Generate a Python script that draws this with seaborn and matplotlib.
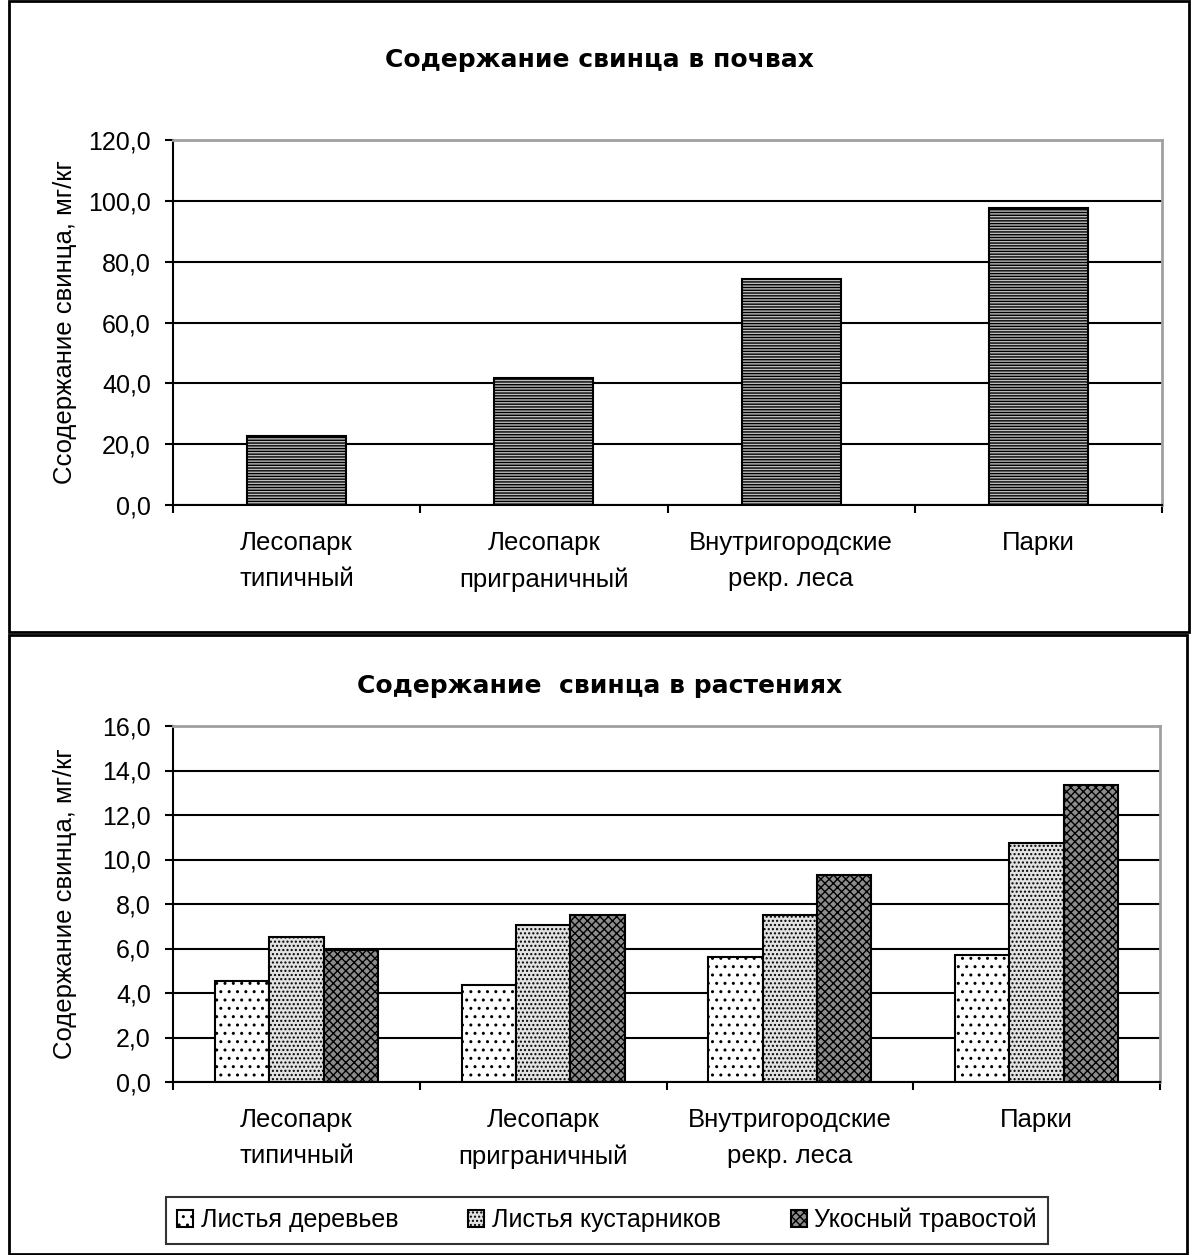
import numpy as np
import pandas as pd
import matplotlib
matplotlib.use("Agg")
import matplotlib.pyplot as plt
from matplotlib.patches import Rectangle
from matplotlib.ticker import FixedLocator, FuncFormatter
import seaborn as sns

# ---- data ----
categories = ["Лесопарк\nтипичный", "Лесопарк\nприграничный",
              "Внутригородские\nрекр. леса", "Парки"]
soil_lead = [22.7, 41.8, 74.4, 97.5]

series_names = ["Листья деревьев", "Листья кустарников", "Укосный травостой"]
tree_leaves = [4.55, 4.35, 5.6, 5.7]
shrub_leaves = [6.5, 7.05, 7.5, 10.75]
hay_grass = [5.95, 7.5, 9.3, 13.35]

soil_ticks = [0, 20, 40, 60, 80, 100, 120]
plant_ticks = [0, 2, 4, 6, 8, 10, 12, 14, 16]

sns.set_theme(style="white")
plt.rcParams["font.family"] = ["Liberation Sans", "DejaVu Sans"]
plt.rcParams["hatch.linewidth"] = 1.0
for key in ("text.color", "axes.labelcolor", "xtick.color", "ytick.color"):
    plt.rcParams[key] = "black"

W, H = 1192, 1255
fig = plt.figure(figsize=(W / 100, H / 100), dpi=100)
fig.patch.set_facecolor("white")


def fx(px):
    return px / W


def fy(py):
    return 1 - py / H


def comma_fmt(v, pos):
    return f"{v:.1f}".replace(".", ",")


def style_axes(ax, ticks):
    ax.set_ylim(ticks[0], ticks[-1])
    ax.set_xlim(-0.5, len(categories) - 0.5)
    ax.yaxis.set_major_locator(FixedLocator(ticks))
    ax.yaxis.set_major_formatter(FuncFormatter(comma_fmt))
    ax.yaxis.grid(True, color="black", linewidth=1.5)
    ax.xaxis.grid(False)
    ax.set_axisbelow(True)
    for side in ("left", "bottom"):
        ax.spines[side].set_color("black")
        ax.spines[side].set_linewidth(1.5)
        ax.spines[side].set_visible(True)
    for side in ("top", "right"):
        ax.spines[side].set_color("#a0a0a0")
        ax.spines[side].set_linewidth(2)
        ax.spines[side].set_visible(True)
    ax.set_xticks(range(len(categories)))
    ax.set_xticklabels(categories, fontsize=18.5, linespacing=1.62)
    ax.set_xticks(np.arange(-0.5, len(categories)), minor=True)
    ax.tick_params(axis="x", which="major", length=0, pad=19)
    ax.tick_params(axis="x", which="minor", direction="out", length=6,
                   width=1.5, color="black", bottom=True)
    ax.tick_params(axis="y", which="major", direction="out", length=6,
                   width=1.5, color="black", left=True, pad=10, labelsize=18)
    ax.set_xlabel("")


def set_hatch(bar, pattern, color):
    bar.set_hatch(pattern)
    if hasattr(bar, "set_hatchcolor"):
        bar.set_hatchcolor(color)


# ---- upper chart: lead in soils ----
ax1 = fig.add_axes([fx(173), fy(505), fx(1162) - fx(173), fy(140) - fy(505)])
sns.barplot(x=categories, y=soil_lead, ax=ax1, width=0.4, color="#bdbdbd",
            edgecolor="black", linewidth=1.5, saturation=1)
for bar in ax1.patches:
    set_hatch(bar, "------", "#5a5a5a")
style_axes(ax1, soil_ticks)
ax1.set_ylabel("Ссодержание свинца, мг/кг", fontsize=18.5)
ax1.yaxis.set_label_coords(-0.097, 0.5)
fig.text(fx(599), fy(60), "Содержание свинца в почвах", ha="center",
         va="center", fontsize=18, fontweight="heavy", family="DejaVu Sans")

# ---- lower chart: lead in plants ----
df = pd.DataFrame({
    "category": categories * 3,
    "value": tree_leaves + shrub_leaves + hay_grass,
    "series": [s for s in series_names for _ in categories],
})
ax2 = fig.add_axes([fx(173), fy(1082), fx(1160) - fx(173), fy(726) - fy(1082)])
faces = ["#ffffff", "#e2e2e2", "#8c8c8c"]
hatches = ["..", "....", "xxxx"]
hatch_colors = ["#333333", "#444444", "#1a1a1a"]
sns.barplot(data=df, x="category", y="value", hue="series",
            hue_order=series_names, palette=faces, ax=ax2, width=0.66,
            gap=0, edgecolor="black", linewidth=1.5, saturation=1,
            legend=False)
for cont, hp, hc in zip(ax2.containers, hatches, hatch_colors):
    for bar in cont:
        set_hatch(bar, hp, hc)
style_axes(ax2, plant_ticks)
ax2.set_ylabel("Содержание свинца, мг/кг", fontsize=18.5)
ax2.yaxis.set_label_coords(-0.097, 0.5)
fig.text(fx(600), fy(686), "Содержание  свинца в растениях", ha="center",
         va="center", fontsize=18, fontweight="heavy", family="DejaVu Sans")

leg = ax2.legend(handles=[c[0] for c in ax2.containers], labels=series_names,
                 loc="center", bbox_to_anchor=(fx(607), fy(1220)),
                 bbox_transform=fig.transFigure, ncol=3, frameon=True,
                 fancybox=False, edgecolor="black", fontsize=18,
                 handlelength=0.65, handleheight=0.65, handletextpad=0.3,
                 columnspacing=2.8, borderpad=0.45)
leg.get_frame().set_linewidth(1.5)

# ---- panel frames ----
fig.add_artist(Rectangle((fx(9), fy(632)), fx(1189) - fx(9), fy(1) - fy(632),
                         transform=fig.transFigure, fill=False,
                         edgecolor="black", linewidth=2))
fig.add_artist(Rectangle((fx(9), fy(1254)), fx(1187) - fx(9), fy(635) - fy(1254),
                         transform=fig.transFigure, fill=False,
                         edgecolor="black", linewidth=2))

fig.savefig("out.png", dpi=100, facecolor="white")
